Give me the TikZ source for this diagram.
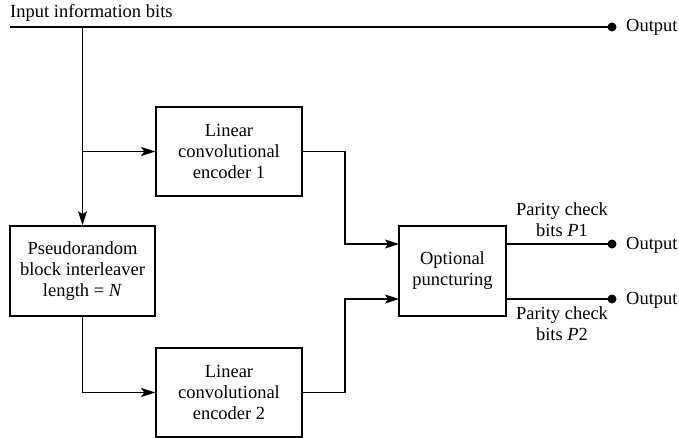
\documentclass[tikz,border=0pt]{standalone}
\usepackage{fontspec}
\setmainfont{Liberation Serif}
\usepackage{tikz}
\usetikzlibrary{arrows.meta}

\begin{document}
\begin{tikzpicture}[
  x=1pt, y=-1pt,
  blk/.style={rectangle, draw, line width=1.6pt, inner sep=0pt,
    align=center, font=\rmfamily\fontsize{18.5}{21}\selectfont},
  lbl/.style={inner sep=0pt, align=center, font=\rmfamily\fontsize{18.5}{21}\selectfont},
  line/.style={line width=1.6pt},
  arr/.style={line width=1.6pt, -{Stealth[length=14pt, width=9pt, inset=3pt]}},
  dot/.style={fill, circle, inner sep=0pt, minimum size=9pt},
]
\useasboundingbox (0,0) rectangle (679,438);

% BLOCKS
\node[blk, minimum width=145pt, minimum height=90pt] (intl) at (82.5,271)
  {Pseudorandom\\block interleaver\\length = \textit{N}};
\node[blk, minimum width=146pt, minimum height=89pt] (enc1) at (229,151.5)
  {Linear\\convolutional\\encoder 1};
\node[blk, minimum width=146pt, minimum height=89pt] (enc2) at (229,392.5)
  {Linear\\convolutional\\encoder 2};
\node[blk, minimum width=107pt, minimum height=90pt] (punct) at (452.5,271)
  {Optional\\puncturing};

% POINTS
\coordinate (in) at (10,27);
\coordinate (split) at (82.5,27);
\coordinate (bend) at (345,0);
\coordinate (pin1) at (399,244);
\coordinate (pin2) at (399,299);
\node[dot] (out0) at (612,27) {};
\node[dot] (out1) at (612,244) {};
\node[dot] (out2) at (612,299) {};

% TEXTS
\node[lbl, anchor=base west] (inlbl) at (10,18) {Input information bits};
\node[lbl, anchor=base west] (o0) at (626,32) {Output};
\node[lbl, anchor=base west] (o1) at (626,249) {Output};
\node[lbl, anchor=base west] (o2) at (626,304) {Output};
\node[lbl, anchor=south] (p1) at (562,237) {Parity check\\bits \textit{P}1};
\node[lbl, anchor=north] (p2) at (562,306) {Parity check\\bits \textit{P}2};

% CONNECTORS
\draw[line] (in) -- (out0.center);
\draw[arr] (split) -- (intl.north);
\draw[arr] (split |- enc1) -- (enc1.west);
\draw[arr] (intl.south) |- (enc2.west);
\draw[arr] (enc1.east) -| (bend |- pin1) -- (pin1);
\draw[arr] (enc2.east) -| (bend |- pin2) -- (pin2);
\draw[line] (punct.east |- pin1) -- (out1.center);
\draw[line] (punct.east |- pin2) -- (out2.center);
\end{tikzpicture}
\end{document}
